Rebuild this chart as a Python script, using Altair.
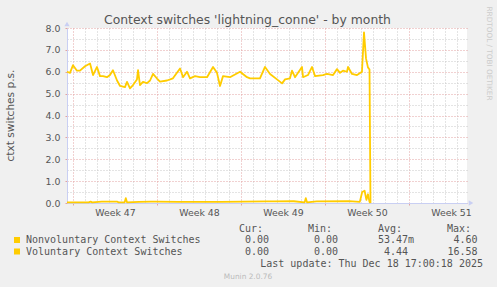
import altair as alt
import pandas as pd

# x = days since Monday 17 Nov 2025 00:00 (start of ISO week 47)
vol_days = [-0.5, -0.25, 0.0, 0.33, 0.58, 1.0, 1.42, 1.67, 2.0, 2.25, 2.5, 2.83, 3.08, 3.33, 3.67, 3.92,
            4.33, 4.5, 4.75, 5.0, 5.33, 5.42, 5.58, 5.83, 6.17, 6.42, 6.67, 7.0, 7.25, 7.83, 8.33, 8.92,
            9.17, 9.5, 9.75, 10.17, 10.58, 11.17, 11.67, 12.0, 12.25, 12.5, 13.08, 13.92, 14.5, 14.75,
            15.58, 16.0, 16.42, 17.0, 17.42, 17.67, 18.08, 18.25, 18.5, 19.08, 19.17, 19.58, 19.92,
            20.17, 20.83, 21.17, 21.67, 22.0, 22.25, 22.5, 22.83, 22.92, 23.25, 23.67, 24.08, 24.25,
            24.42, 24.58, 24.71, 24.79]
vol_vals = [6.0, 5.95, 6.3, 6.05, 6.05, 6.25, 6.38, 5.85, 6.22, 5.8, 5.8, 5.75, 5.85, 6.07, 5.6, 5.35,
            5.3, 5.54, 5.24, 5.39, 5.65, 6.07, 5.39, 5.54, 5.48, 5.6, 5.9, 5.69, 5.55, 5.6, 5.7, 6.15,
            5.75, 6.0, 5.7, 5.8, 5.75, 5.75, 6.22, 5.95, 5.35, 5.8, 5.75, 6.0, 5.75, 5.7,
            5.7, 6.22, 5.9, 5.65, 5.47, 5.65, 5.7, 6.05, 5.75, 6.22, 5.75, 5.85, 6.22,
            5.8, 5.85, 5.9, 5.85, 6.12, 5.95, 6.05, 6.0, 6.22, 5.9, 5.85, 6.0, 7.8,
            6.6, 6.2, 6.1, 0.0]

nonvol_days = [-0.5, 1.3, 1.47, 1.6, 2.4, 3.7, 3.8, 4.3, 4.4, 4.5, 5.5, 6.5, 6.9, 8.8, 11.3, 12.3,
               16.1, 16.75, 18.4, 19.3, 19.4, 19.5, 20.3, 23.0, 23.9, 24.1, 24.3, 24.45, 24.58, 24.71, 24.79]
nonvol_vals = [0.03, 0.03, 0.06, 0.03, 0.06, 0.06, 0.03, 0.03, 0.22, 0.03, 0.05, 0.06, 0.06, 0.05, 0.05, 0.05,
               0.07, 0.07, 0.08, 0.03, 0.22, 0.03, 0.07, 0.09, 0.05, 0.5, 0.56, 0.14, 0.4, 0.05, 0.0]

week_starts = [0, 7, 14, 21, 28]
week_labels = ["Week 47", "Week 48", "Week 49", "Week 50", "Week 51"]
day_ticks = list(range(0, 33))
y_ticks = [i * 0.5 for i in range(17)]

legend_names = ["Nonvoluntary Context Switches", "Voluntary Context Switches"]
legend_headers = ["Cur:", "Min:", "Avg:", "Max:"]
legend_cur = ["0.00", "0.00"]
legend_min = ["0.00", "0.00"]
legend_avg = ["53.47m", "4.44"]
legend_max = ["4.60", "16.58"]
title_text = "Context switches 'lightning_conne' - by month"
y_title = "ctxt switches p.s."
last_update = "Last update: Thu Dec 18 17:00:18 2025"
watermark = "Munin 2.0.76"
side_text = "RRDTOOL / TOBI OETIKER"

LINE = "#FFCC00"
AXIS = "#C9CFF3"
MAJOR = "#E2A2A2"
MINOR = "#C8C8C8"
TXT = "#555555"
SANS = "DejaVu Sans"
MONO = "DejaVu Sans Mono"

df = pd.DataFrame({
    "day": nonvol_days + vol_days,
    "value": nonvol_vals + vol_vals,
    "series": ["a"] * len(nonvol_days) + ["b"] * len(vol_days),
})

week_test = " || ".join(f"datum.value === {d}" for d in week_starts)
label_expr = ""
for d, lab in zip(week_starts, week_labels):
    label_expr += f"datum.value === {d} ? '{lab}' : "
label_expr += "''"

x_axis = alt.Axis(
    values=day_ticks, labelExpr=label_expr, labelOffset=42, labelOverlap=False,
    labelFlush=False, labelBound=False, labelFont=SANS, labelFontSize=9.4, labelColor=TXT,
    labelPadding=3, grid=True,
    gridColor={"condition": {"test": week_test, "value": MAJOR}, "value": MINOR},
    gridDash=[1, 2], gridWidth=1, tickSize=2,
    tickColor={"condition": {"test": week_test, "value": MAJOR}, "value": "rgba(0,0,0,0)"},
    domainColor=AXIS, title=None,
)
y_axis = alt.Axis(
    values=y_ticks, labelExpr="datum.value % 1 === 0 ? format(datum.value, '.1f') : ''",
    labelOverlap=False, labelFlush=False, labelBound=False, labelFont=SANS, labelFontSize=9.4,
    labelColor=TXT, labelPadding=5, grid=True,
    gridColor={"condition": {"test": "datum.value % 1 === 0", "value": MAJOR}, "value": MINOR},
    gridDash=[1, 2], gridWidth=1, tickSize=2,
    tickColor={"condition": {"test": "datum.value % 1 === 0", "value": MAJOR}, "value": "rgba(0,0,0,0)"},
    domainColor=AXIS, title=None,
)

x_scale = alt.Scale(domain=[-0.5, 32.8333], nice=False, zero=False)
y_scale = alt.Scale(domain=[0, 8], nice=False)

lines = alt.Chart(df).mark_line(strokeWidth=1.8, color=LINE, strokeJoin="round").encode(
    x=alt.X("day:Q", scale=x_scale, axis=x_axis),
    y=alt.Y("value:Q", scale=y_scale, axis=y_axis),
    detail="series:N",
)

one = pd.DataFrame({"k": [0]})


def txt(text, x, y, size, font=SANS, color=TXT, align="left", baseline="alphabetic", angle=0):
    kw = dict(font=font, fontSize=size, color=color, align=align, baseline=baseline)
    if angle:
        kw["angle"] = angle
    return alt.Chart(pd.DataFrame({"t": [text]})).mark_text(**kw).encode(
        x=alt.value(x), y=alt.value(y), text="t:N")


layers = [lines]
# axis arrows
layers.append(alt.Chart(one).mark_point(shape="triangle-up", filled=True, size=28, color=AXIS, opacity=1)
              .encode(x=alt.value(0), y=alt.value(-4)))
layers.append(alt.Chart(one).mark_point(shape="triangle-right", filled=True, size=28, color=AXIS, opacity=1)
              .encode(x=alt.value(404), y=alt.value(175)))

layers.append(txt(title_text, 180.5, -4.5, 12.4, align="center"))
layers.append(txt(y_title, -56, 87.5, 10.6, align="center", baseline="middle", angle=270))
layers.append(txt(side_text, 421.5, 25.5, 7.3, color="#CCCCCC", align="center", baseline="middle", angle=90))

# legend
hdr_x = [172, 241, 311, 380]
for h, hx in zip(legend_headers, hdr_x):
    layers.append(txt(h, hx, 203.5, 10, font=MONO))
row_y = [215.3, 226.7]
box_y = [209, 220.5]
for i in range(2):
    layers.append(alt.Chart(one).mark_rect(color=LINE).encode(
        x=alt.value(-53), x2=alt.value(-47), y=alt.value(box_y[i]), y2=alt.value(box_y[i] + 6)))
    layers.append(txt(legend_names[i], -41, row_y[i], 10, font=MONO))
    layers.append(txt(legend_cur[i], 202, row_y[i], 10, font=MONO, align="right"))
    layers.append(txt(legend_min[i], 271, row_y[i], 10, font=MONO, align="right"))
    avg = legend_avg[i]
    avg_right = 347 if avg.endswith("m") else 341
    layers.append(txt(avg, avg_right, row_y[i], 10, font=MONO, align="right"))
    layers.append(txt(legend_max[i], 410.5, row_y[i], 10, font=MONO, align="right"))
layers.append(txt(last_update, 416, 239, 10, font=MONO, align="right"))
layers.append(txt(watermark, 181, 251, 7.4, color="#BBBBBB", align="center"))

chart = alt.layer(*layers).properties(
    width=400, height=175,
    padding={"left": 67, "top": 28, "right": 30, "bottom": 84},
    autosize=alt.AutoSizeParams(type="none"),
    background="#F0F0F0",
).configure_view(fill="white", strokeWidth=0)

chart.save("out.html", embed_options={"renderer": "svg", "actions": False})
